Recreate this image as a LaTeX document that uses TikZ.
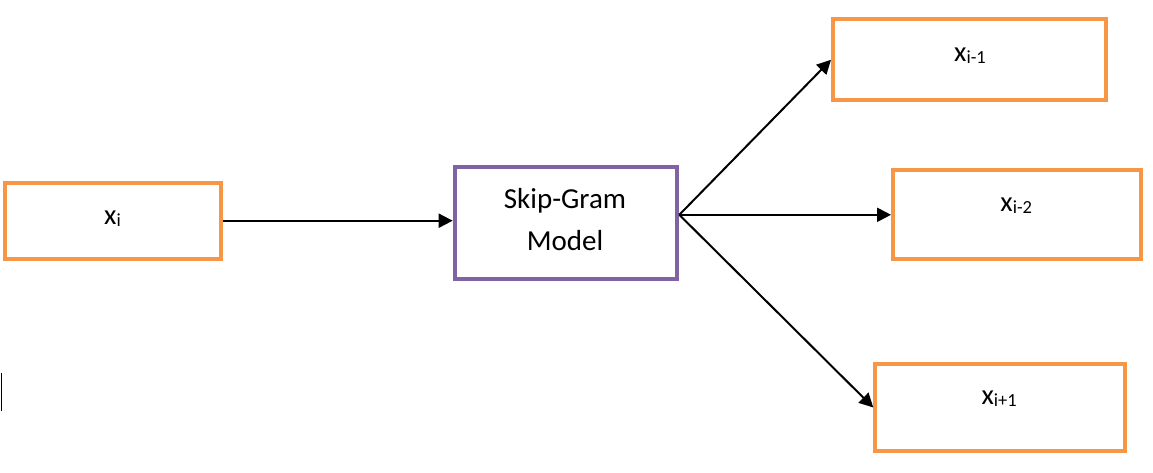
\documentclass[tikz,border=0pt]{standalone}
\usepackage{fontspec}
\setmainfont{Carlito}
\usepackage{xcolor}
\usetikzlibrary{calc,arrows.meta}
\definecolor{wordorange}{HTML}{F79646}
\definecolor{modelpurple}{HTML}{8064A2}
\newcommand{\wsub}[1]{\raisebox{-2.5pt}{\fontsize{18.5}{18.5}\selectfont #1}}

\begin{document}
\begin{tikzpicture}[x=1pt,y=-1pt]
% This fixes the page to the size of the reference.
\useasboundingbox (0,0) rectangle (1153,472);

% This determines how the boxes, texts and arrows look.
\tikzstyle{wordbox}=[draw=wordorange,line width=4pt,inner sep=0pt]
\tikzstyle{modelbox}=[draw=modelpurple,line width=4pt,inner sep=0pt]
\tikzstyle{wordtext}=[anchor=base,inner sep=0pt,font=\fontsize{28.5}{34}\selectfont]
\tikzstyle{flow}=[line width=2pt,-{Triangle[length=14pt,width=14pt]}]

% This draws the input word.
\node[wordbox,minimum width=216pt,minimum height=76pt] (Xi) at (112.7,220.7) {};
\node[wordtext] (Xitext) at (112.5,224.3) {x\wsub{i}};

% This draws the model.
\node[modelbox,minimum width=222.6pt,minimum height=111.7pt] (SG) at (566,222.8) {};
\node[wordtext,align=center,font=\fontsize{29}{41.7}\selectfont] (SGtext) at (565,250) {Skip-Gram\\Model};

% This draws the context words.
\node[wordbox,minimum width=273pt,minimum height=81pt] (Xim1) at (969.5,59.8) {};
\node[wordtext] (Xim1text) at (970,61) {x\wsub{i-1}};

\node[wordbox,minimum width=247.7pt,minimum height=89pt] (Xim2) at (1016.9,214.8) {};
\node[wordtext] (Xim2text) at (1016.3,211) {x\wsub{i-2}};

\node[wordbox,minimum width=249.4pt,minimum height=86.4pt] (Xip1) at (1000,407.5) {};
\node[wordtext] (Xip1text) at (999.2,404.3) {x\wsub{i+1}};

% This draws the arrows.
\coordinate (fork) at ($(SG.east)+(0,-8)$);
\draw[flow] (Xi.east) -- (Xi.east -| SG.west);
\draw[flow] (fork) -- (Xim1.west);
\draw[flow] (fork) -- (Xim2.west);
\draw[flow] (fork) -- (Xip1.west);

% This draws the cursor mark.
\draw[line width=1pt] (1.5,373) -- (1.5,411);
\end{tikzpicture}
\end{document}
